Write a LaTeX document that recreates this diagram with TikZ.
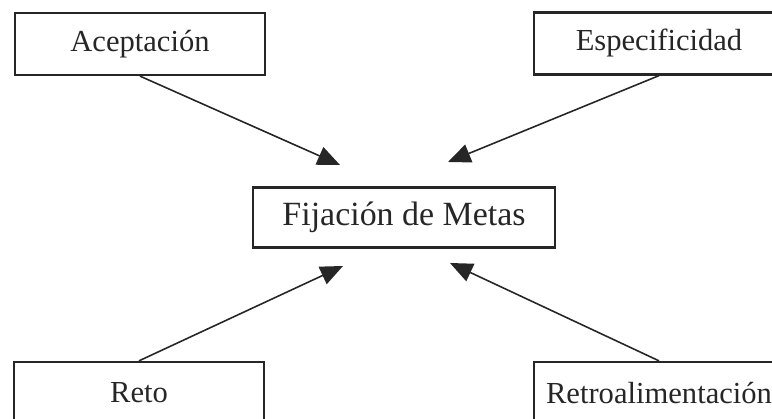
\documentclass[tikz,border=0pt]{standalone}
\usepackage{fontspec}
\setmainfont{Liberation Serif}
\usetikzlibrary{arrows.meta,positioning}

\begin{document}
\begin{tikzpicture}[
    box/.style={rectangle, draw=black!85, line width=1.3pt, minimum width=5cm, minimum height=1.24cm, align=center, font=\fontsize{17.4}{20}\selectfont, text=black!85},
    goal/.style={box, minimum width=6.04cm, minimum height=1.2cm, font=\fontsize{19.3}{22}\selectfont},
    arrow/.style={-{Triangle[length=0.45cm,width=0.38cm]}, line width=0.9pt, draw=black!85}
]
\useasboundingbox (0,0) rectangle (15.44,8.38);
\clip (0,0) rectangle (15.44,8.38);

% Central node
\node[goal] (metas) at (8.08,4.03) {Fijación de Metas};

% Factors
\node[box] (aceptacion) at (2.80,7.50) {Aceptación};
\node[box] (especificidad) at (13.18,7.51) {Especificidad};
\node[box] (reto) at (2.78,0.52) {Reto};
\node[box] (retro) at (13.18,0.52) {Retroalimentación};

% Arrow tips (they stop short of the central box)
\coordinate (tip_acep) at (6.80,5.08);
\coordinate (tip_espec) at (8.96,5.14);
\coordinate (tip_reto) at (6.86,3.06);
\coordinate (tip_retro) at (9.00,3.12);

% Arrows
\draw[arrow] (aceptacion.south) -- (tip_acep);
\draw[arrow] (especificidad.south) -- (tip_espec);
\draw[arrow] (reto.north) -- (tip_reto);
\draw[arrow] (retro.north) -- (tip_retro);

\end{tikzpicture}
\end{document}
